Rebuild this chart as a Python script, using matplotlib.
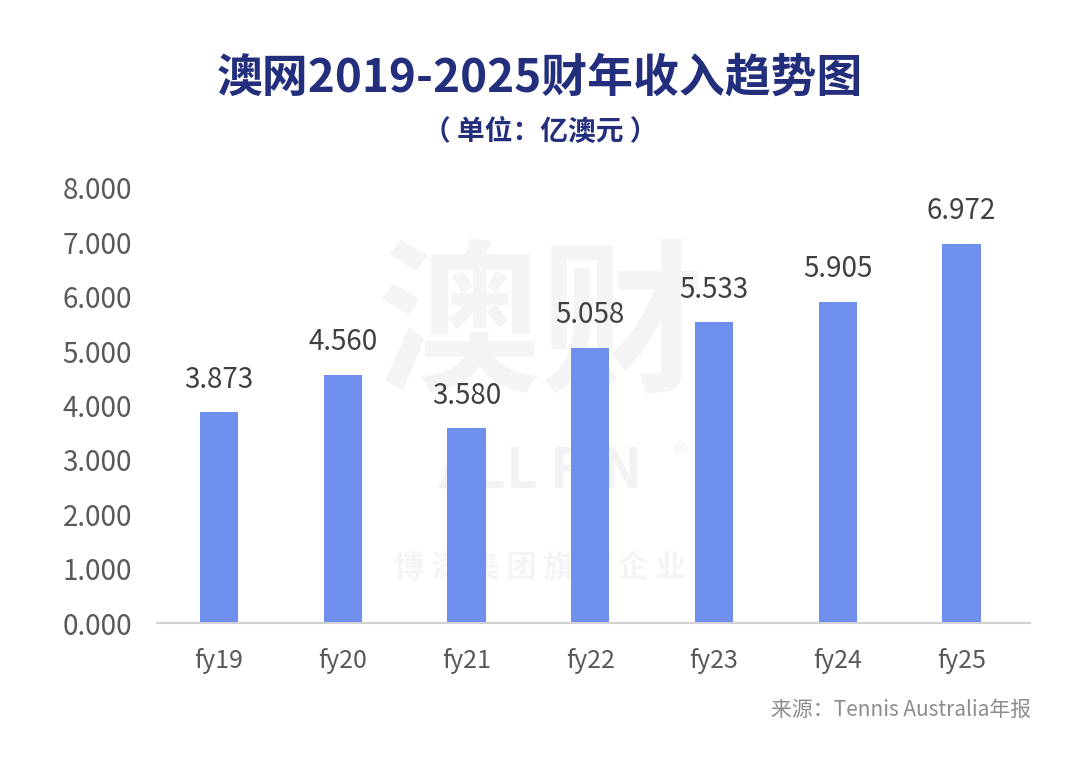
import matplotlib.pyplot as plt

plt.rcParams['font.family'] = ['Noto Sans CJK SC', 'DejaVu Sans']

categories = ['fy19', 'fy20', 'fy21', 'fy22', 'fy23', 'fy24', 'fy25']
revenue = [3.873, 4.560, 3.580, 5.058, 5.533, 5.905, 6.972]
yticks = [0, 1, 2, 3, 4, 5, 6, 7, 8]

title = '澳网2019-2025财年收入趋势图'
subtitle = '（ 单位：亿澳元 ）'
source = '来源：Tennis Australia年报'

navy = '#232f7c'
bar_color = '#6f8fee'
label_gray = '#595959'

fig = plt.figure(figsize=(10.8, 7.67), dpi=100)
ax = fig.add_axes([0.1454, 0.1877, 0.808, 0.5672])

# faint watermark behind the bars
fig.text(0.5, 0.57, '澳财', ha='center', va='center', fontsize=118,
         fontweight='bold', color='#f4f4f4', zorder=0)
fig.text(0.5, 0.385, 'ALL FIN', ha='center', va='center', fontsize=40,
         fontweight='bold', color='#f2f2f2', zorder=0)
fig.text(0.63, 0.405, '®', ha='center', va='center', fontsize=22,
         color='#f2f2f2', zorder=0)
fig.text(0.5, 0.26, '博 满 集 团 旗 下 企 业', ha='center', va='center',
         fontsize=22, fontweight='bold', color='#f4f4f4', zorder=0)
ax.set_zorder(1)
ax.patch.set_alpha(0)

x = range(len(categories))
ax.bar(x, revenue, width=0.31, color=bar_color, zorder=2)
for xi, v in zip(x, revenue):
    ax.text(xi, v + 0.6, f'{v:.3f}', ha='center', va='center',
            fontsize=20, fontweight='light', color='#404040')

ax.set_xlim(-0.5, 6.55)
ax.set_ylim(0, 8)
ax.set_yticks(yticks)
ax.set_yticklabels([f'{t:.3f}' for t in yticks], fontsize=20,
                   fontweight='light', color=label_gray)
ax.set_xticks(list(x))
ax.set_xticklabels(categories, fontsize=18, fontweight='light', color=label_gray)
ax.tick_params(length=0)
ax.tick_params(axis='y', pad=18)
ax.tick_params(axis='x', pad=18)
for side in ['top', 'right', 'left']:
    ax.spines[side].set_visible(False)
ax.spines['bottom'].set_color('#d0d0d0')
ax.spines['bottom'].set_linewidth(1.5)

fig.text(0.5, 0.898, title, ha='center', va='center', fontsize=33,
         fontweight='bold', color=navy)
fig.text(0.5, 0.828, subtitle, ha='center', va='center', fontsize=20,
         fontweight='bold', color=navy)
fig.text(0.955, 0.075, source, ha='right', va='center', fontsize=15,
         color='#8c8c8c')

fig.savefig('out.png', dpi=100, facecolor='white')
